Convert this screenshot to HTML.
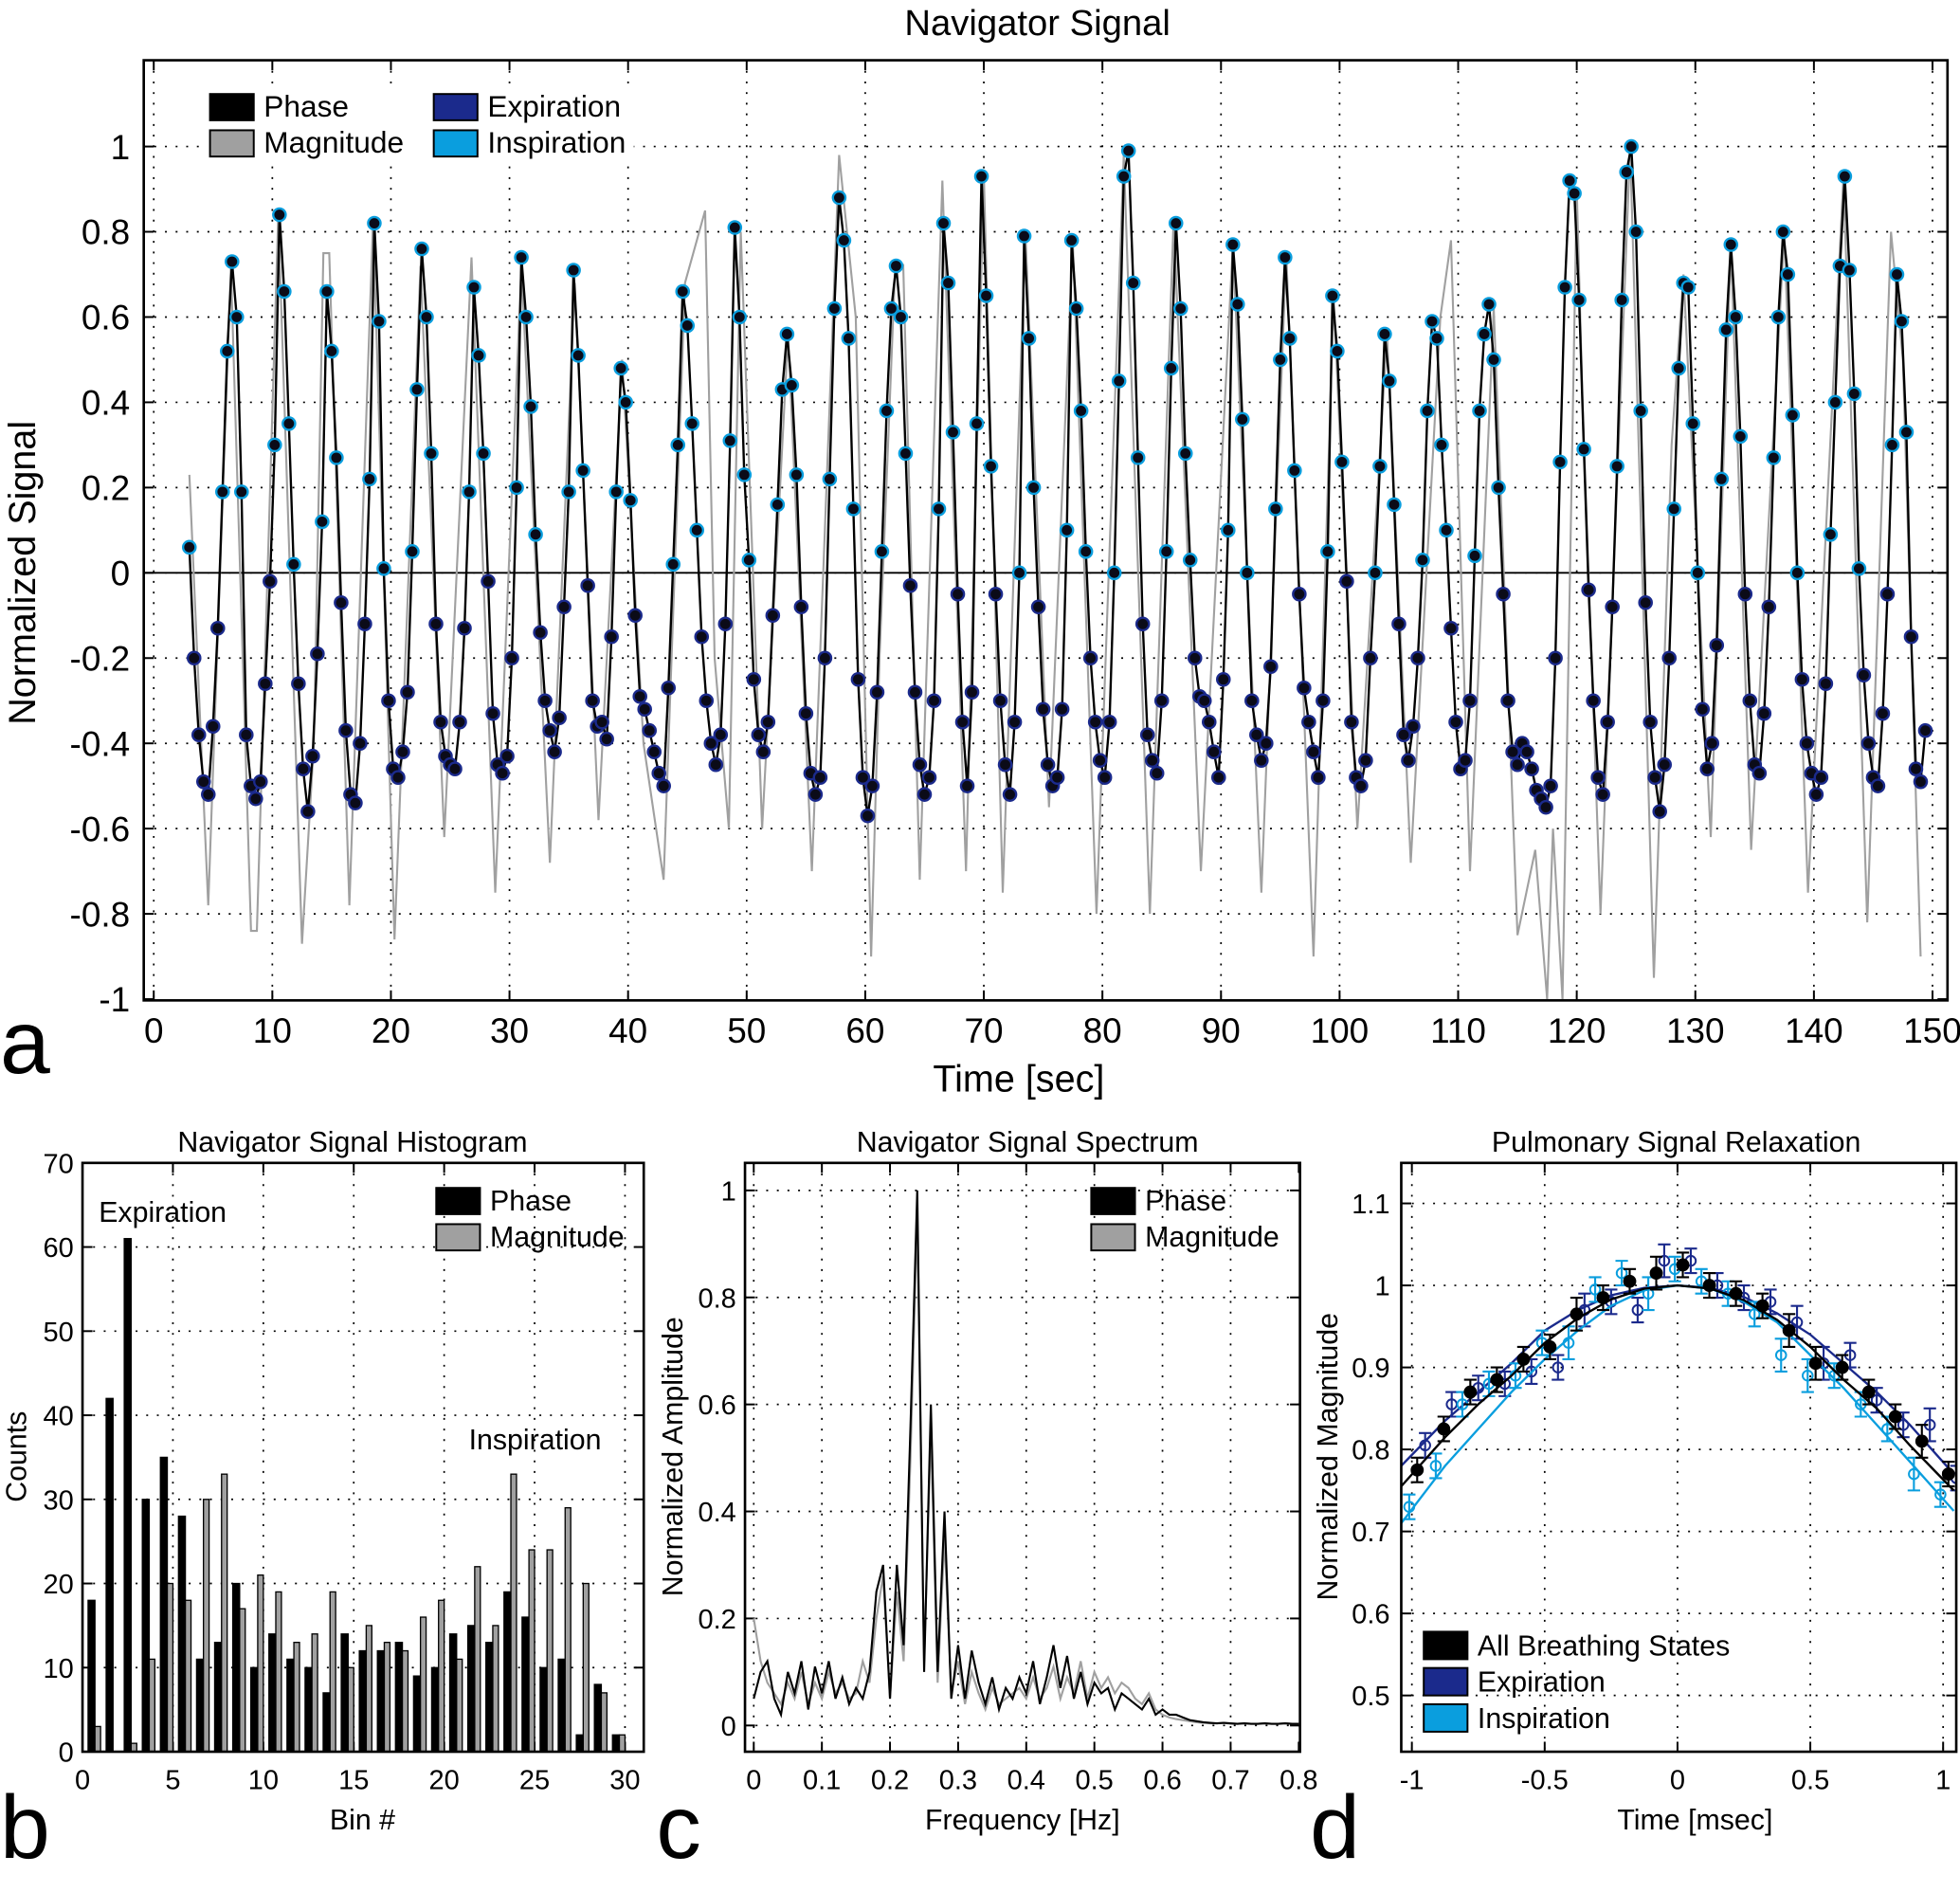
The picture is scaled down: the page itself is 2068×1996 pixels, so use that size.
<!DOCTYPE html>
<html><head><meta charset="utf-8">
<style>
html,body{margin:0;padding:0;background:#fff;}
svg{display:block;font-family:"Liberation Sans",Arial,sans-serif;}
</style></head>
<body>
<svg id="fig" width="2068" height="1996" viewBox="0 0 1568 1513" xmlns="http://www.w3.org/2000/svg"></svg>
<script>
// ---------- Panel a data ----------
const phaseStart = 3.0;
const phaseStep = 0.4;
const phaseValues = [0.06,-0.2,-0.38,-0.49,-0.52,-0.36,-0.13,0.19,0.52,0.73,0.6,0.19,-0.38,-0.5,-0.53,-0.49,-0.26,-0.02,0.3,0.84,0.66,0.35,0.02,-0.26,-0.46,-0.56,-0.43,-0.19,0.12,0.66,0.52,0.27,-0.07,-0.37,-0.52,-0.54,-0.4,-0.12,0.22,0.82,0.59,0.01,-0.3,-0.46,-0.48,-0.42,-0.28,0.05,0.43,0.76,0.6,0.28,-0.12,-0.35,-0.43,-0.45,-0.46,-0.35,-0.13,0.19,0.67,0.51,0.28,-0.02,-0.33,-0.45,-0.47,-0.43,-0.2,0.2,0.74,0.6,0.39,0.09,-0.14,-0.3,-0.37,-0.42,-0.34,-0.08,0.19,0.71,0.51,0.24,-0.03,-0.3,-0.36,-0.35,-0.39,-0.15,0.19,0.48,0.4,0.17,-0.1,-0.29,-0.32,-0.37,-0.42,-0.47,-0.5,-0.27,0.02,0.3,0.66,0.58,0.35,0.1,-0.15,-0.3,-0.4,-0.45,-0.38,-0.12,0.31,0.81,0.6,0.23,0.03,-0.25,-0.38,-0.42,-0.35,-0.1,0.16,0.43,0.56,0.44,0.23,-0.08,-0.33,-0.47,-0.52,-0.48,-0.2,0.22,0.62,0.88,0.78,0.55,0.15,-0.25,-0.48,-0.57,-0.5,-0.28,0.05,0.38,0.62,0.72,0.6,0.28,-0.03,-0.28,-0.45,-0.52,-0.48,-0.3,0.15,0.82,0.68,0.33,-0.05,-0.35,-0.5,-0.28,0.35,0.93,0.65,0.25,-0.05,-0.3,-0.45,-0.52,-0.35,0.0,0.79,0.55,0.2,-0.08,-0.32,-0.45,-0.5,-0.48,-0.32,0.1,0.78,0.62,0.38,0.05,-0.2,-0.35,-0.44,-0.48,-0.35,0.0,0.45,0.93,0.99,0.68,0.27,-0.12,-0.38,-0.44,-0.47,-0.3,0.05,0.48,0.82,0.62,0.28,0.03,-0.2,-0.29,-0.3,-0.35,-0.42,-0.48,-0.25,0.1,0.77,0.63,0.36,0.0,-0.3,-0.38,-0.44,-0.4,-0.22,0.15,0.5,0.74,0.55,0.24,-0.05,-0.27,-0.35,-0.42,-0.48,-0.3,0.05,0.65,0.52,0.26,-0.02,-0.35,-0.48,-0.5,-0.44,-0.2,0.0,0.25,0.56,0.45,0.16,-0.12,-0.38,-0.44,-0.36,-0.2,0.03,0.38,0.59,0.55,0.3,0.1,-0.13,-0.35,-0.46,-0.44,-0.3,0.04,0.38,0.56,0.63,0.5,0.2,-0.05,-0.3,-0.42,-0.45,-0.4,-0.42,-0.46,-0.51,-0.53,-0.55,-0.5,-0.2,0.26,0.67,0.92,0.89,0.64,0.29,-0.04,-0.3,-0.48,-0.52,-0.35,-0.08,0.25,0.64,0.94,1.0,0.8,0.38,-0.07,-0.35,-0.48,-0.56,-0.45,-0.2,0.15,0.48,0.68,0.67,0.35,0.0,-0.32,-0.46,-0.4,-0.17,0.22,0.57,0.77,0.6,0.32,-0.05,-0.3,-0.45,-0.47,-0.33,-0.08,0.27,0.6,0.8,0.7,0.37,0.0,-0.25,-0.4,-0.47,-0.52,-0.48,-0.26,0.09,0.4,0.72,0.93,0.71,0.42,0.01,-0.24,-0.4,-0.48,-0.5,-0.33,-0.05,0.3,0.7,0.59,0.33,-0.15,-0.46,-0.49,-0.37];
const magTimes = [3.0,4.6,6.5,8.2,8.7,10.5,12.5,13.5,14.3,14.8,16.5,18.5,20.3,22.5,24.5,26.8,28.8,31,33.4,35.5,37.5,39.5,41.3,43,44.8,46.5,47.3,48.5,49.5,51.3,53.5,55.5,57.8,59.2,60.5,61.2,62.5,63.2,64.6,66.5,68.5,70,71.6,73.5,75.5,77.5,79.5,81.8,84,86,88.3,91,93.4,95.5,97.8,99.5,101.5,104,106,108.5,109.4,111,113,115,116.5,117.5,118,118.8,120,120.5,122,124.5,126.5,128,129,131.3,133,134.7,137.5,139.5,142.5,144.5,146.5,147.5,149];
const magValues = [0.23,-0.78,0.72,-0.84,-0.84,0.84,-0.87,-0.4,0.75,0.75,-0.78,0.83,-0.86,0.72,-0.62,0.74,-0.75,0.72,-0.68,0.68,-0.58,0.5,-0.4,-0.72,0.68,0.85,-0.2,-0.6,0.8,-0.6,0.56,-0.7,0.98,0.6,-0.9,-0.2,0.7,0.72,-0.72,0.92,-0.7,0.93,-0.75,0.8,-0.55,0.78,-0.8,0.98,-0.8,0.83,-0.7,0.77,-0.75,0.75,-0.9,0.65,-0.6,0.56,-0.68,0.6,0.78,-0.7,0.62,-0.85,-0.65,-1.0,-0.6,-1.0,0.9,0.4,-0.8,1.0,-0.95,0.3,0.7,-0.62,0.77,-0.65,0.8,-0.75,0.93,-0.82,0.8,0.5,-0.9];
const aXTicks = [0,10,20,30,40,50,60,70,80,90,100,110,120,130,140,150];
const aYTicks = [-1,-0.8,-0.6,-0.4,-0.2,0,0.2,0.4,0.6,0.8,1];
const aYLabels = ["-1","-0.8","-0.6","-0.4","-0.2","0","0.2","0.4","0.6","0.8","1"];

// ---------- Panel b data ----------
const bins = [1,2,3,4,5,6,7,8,9,10,11,12,13,14,15,16,17,18,19,20,21,22,23,24,25,26,27,28,29,30];
const histPhase = [18,42,61,30,35,28,11,13,20,10,14,11,10,7,14,12,12,13,9,10,14,15,13,19,16,10,11,2,8,2];
const histMag = [3,0,1,11,20,18,30,33,17,21,19,13,14,19,10,15,13,12,16,18,11,22,15,33,24,24,29,20,7,2];
const bXTicks = [0,5,10,15,20,25,30];
const bYTicks = [0,10,20,30,40,50,60,70];

// ---------- Panel c data ----------
const freqs = [0,0.01,0.02,0.03,0.04,0.05,0.06,0.07,0.08,0.09,0.1,0.11,0.12,0.13,0.14,0.15,0.16,0.17,0.18,0.19,0.2,0.21,0.22,0.23,0.24,0.25,0.26,0.27,0.28,0.29,0.3,0.31,0.32,0.33,0.34,0.35,0.36,0.37,0.38,0.39,0.4,0.41,0.42,0.43,0.44,0.45,0.46,0.47,0.48,0.49,0.5,0.51,0.52,0.53,0.54,0.55,0.56,0.57,0.58,0.59,0.6,0.61,0.62,0.63,0.64,0.65,0.66,0.67,0.68,0.69,0.7,0.71,0.72,0.73,0.74,0.75,0.76,0.77,0.78,0.79,0.8];
const specPhase = [0.05,0.1,0.12,0.05,0.02,0.1,0.06,0.12,0.03,0.11,0.06,0.12,0.05,0.09,0.04,0.07,0.05,0.1,0.25,0.3,0.05,0.3,0.15,0.56,1.0,0.1,0.6,0.1,0.4,0.05,0.15,0.05,0.14,0.08,0.04,0.09,0.03,0.07,0.05,0.09,0.06,0.12,0.04,0.09,0.15,0.07,0.13,0.05,0.1,0.04,0.08,0.06,0.07,0.03,0.06,0.05,0.04,0.03,0.05,0.02,0.03,0.02,0.02,0.015,0.01,0.008,0.006,0.005,0.004,0.005,0.004,0.003,0.004,0.003,0.003,0.004,0.003,0.003,0.004,0.003,0.003];
const specMag = [0.2,0.12,0.08,0.06,0.04,0.08,0.05,0.1,0.04,0.08,0.05,0.1,0.06,0.08,0.05,0.06,0.12,0.08,0.2,0.28,0.05,0.25,0.12,0.5,0.95,0.12,0.55,0.08,0.35,0.06,0.12,0.04,0.1,0.06,0.03,0.07,0.04,0.05,0.06,0.07,0.05,0.09,0.05,0.07,0.11,0.05,0.09,0.06,0.12,0.05,0.1,0.07,0.09,0.06,0.08,0.07,0.05,0.04,0.06,0.03,0.02,0.015,0.012,0.01,0.008,0.006,0.005,0.004,0.004,0.005,0.003,0.003,0.004,0.003,0.003,0.004,0.003,0.003,0.004,0.003,0.003];
const cXTicks = [0,0.1,0.2,0.3,0.4,0.5,0.6,0.7,0.8];
const cYTicks = [0,0.2,0.4,0.6,0.8,1];

// ---------- Panel d data ----------
const relaxTimes = [-0.98,-0.88,-0.78,-0.68,-0.58,-0.48,-0.38,-0.28,-0.18,-0.08,0.02,0.12,0.22,0.32,0.42,0.52,0.62,0.72,0.82,0.92,1.02];
const relaxAll = [0.775,0.825,0.87,0.885,0.91,0.925,0.965,0.985,1.005,1.015,1.025,1.0,0.99,0.975,0.945,0.905,0.9,0.87,0.84,0.81,0.77];
const relaxExp = [0.805,0.855,0.875,0.88,0.895,0.9,0.97,0.98,0.97,1.03,1.03,1.0,0.985,0.98,0.955,0.905,0.915,0.86,0.83,0.83,0.765];
const relaxInsp = [0.73,0.78,0.855,0.88,0.89,0.93,0.93,0.995,1.015,0.99,1.02,1.005,0.99,0.965,0.915,0.89,0.89,0.855,0.825,0.77,0.745];
const relaxErr = [0.015,0.015,0.015,0.015,0.015,0.015,0.02,0.015,0.015,0.02,0.015,0.015,0.015,0.015,0.02,0.02,0.015,0.015,0.015,0.02,0.015];
const fitTimes = [-1.04,-0.875,-0.75,-0.625,-0.5,-0.375,-0.25,-0.125,0,0.125,0.25,0.375,0.5,0.625,0.75,0.875,1.04];
const fitAll = [0.755,0.815,0.855,0.89,0.93,0.96,0.983,0.996,1.0,0.996,0.982,0.958,0.925,0.885,0.85,0.805,0.75];
const fitExp = [0.78,0.835,0.87,0.905,0.945,0.97,0.988,0.997,1.0,0.997,0.986,0.966,0.94,0.905,0.87,0.83,0.77];
const fitInsp = [0.71,0.78,0.825,0.87,0.91,0.945,0.975,0.994,1.0,0.996,0.98,0.955,0.915,0.875,0.83,0.785,0.725];
const dXTicks = [-1,-0.5,0,0.5,1];
const dXLabels = ["-1","-0.5","0","0.5","1"];
const dYTicks = [0.5,0.6,0.7,0.8,0.9,1,1.1];

// ---------- helpers ----------
const NS = "http://www.w3.org/2000/svg";
const svg = document.getElementById('fig');
function mk(tag, attrs, parent){
  const e = document.createElementNS(NS, tag);
  for (const k in attrs) e.setAttribute(k, attrs[k]);
  (parent || svg).appendChild(e);
  return e;
}
function txt(s, x, y, size, anchor, parent, extra){
  const a = Object.assign({x:x, y:y, 'font-size':size, 'text-anchor':anchor||'middle', fill:'#000'}, extra||{});
  const t = mk('text', a, parent);
  t.textContent = s;
  return t;
}
const EXP = '#1b2a8c', INSP = '#0a9ede', GRAY = '#a0a0a0';

function axesFrame(g, L, T, R, B, xTicks, yTicks, sx, sy, name){
  const grid = mk('g', {stroke:'#000','stroke-width':1.3,'stroke-dasharray':'1.5,7'}, g);
  
  
  xTicks.forEach(v=>{ const x=sx(v); if(x>L+2&&x<R-2) mk('line',{x1:x,x2:x,y1:T,y2:B},grid); });
  yTicks.forEach(v=>{ const y=sy(v); if(y>T+2&&y<B-2) mk('line',{x1:L,x2:R,y1:y,y2:y},grid); });
  const tk = mk('g', {stroke:'#000','stroke-width':1.5}, g);
  
  
  xTicks.forEach(v=>{ const x=sx(v); mk('line',{x1:x,x2:x,y1:B,y2:B-8},tk); mk('line',{x1:x,x2:x,y1:T,y2:T+8},tk); });
  yTicks.forEach(v=>{ const y=sy(v); mk('line',{x1:L,x2:L+8,y1:y,y2:y},tk); mk('line',{x1:R,x2:R-8,y1:y,y2:y},tk); });
}
function frameBox(g, L, T, R, B, name){
  const r = mk('rect',{x:L,y:T,width:R-L,height:B-T,fill:'none',stroke:'#000','stroke-width':2}, g);
  
  
}
function legendEntry(g, x, y, w, h, color, label, size, name, stroke){
  const r = mk('rect',{x:x,y:y,width:w,height:h,fill:color,stroke:stroke||'#000','stroke-width':1.5}, g);
  
  
  const t = txt(label, x+w+8, y+h-3, size, 'start', g);
  
  
}

// ================= Panel a =================
(function(){
  const L=115,T=48,R=1558,B=800;
  const sx = v => 123 + (v)*(1546-123)/150;
  const sy = v => 458 - v*341;
  const g = mk('g',{});
  
  
  mk('rect',{x:L,y:T,width:R-L,height:B-T,fill:'#fff'},g);
  axesFrame(g,L,T,R,B,aXTicks,aYTicks,sx,sy,'panel-a');
  const zl = mk('line',{x1:L,x2:R,y1:sy(0),y2:sy(0),stroke:'#000','stroke-width':1.5},g);
  
  
  // magnitude
  const mp = magTimes.map((t,i)=>sx(t).toFixed(1)+','+sy(magValues[i]).toFixed(1)).join(' ');
  const ml = mk('polyline',{points:mp,fill:'none',stroke:GRAY,'stroke-width':1.6},g);
  
  
  // phase
  const pp = phaseValues.map((v,i)=>sx(phaseStart+i*phaseStep).toFixed(1)+','+sy(v).toFixed(1)).join(' ');
  const pl = mk('polyline',{points:pp,fill:'none',stroke:'#000','stroke-width':1.8},g);
  
  
  const mg = mk('g',{},g);
  
  
  phaseValues.forEach((v,i)=>{
    const c = mk('circle',{cx:sx(phaseStart+i*phaseStep),cy:sy(v),r:5,fill:'#0b0b18',stroke:v>=0?INSP:EXP,'stroke-width':1.8},mg);
    
    
  });
  frameBox(g,L,T,R,B,'panel-a');
  const xl = mk('g',{},g);
  
  
  aXTicks.forEach(v=>txt(String(v), sx(v), 834, 28, 'middle', xl));
  const yl = mk('g',{},g);
  
  
  aYTicks.forEach((v,i)=>txt(aYLabels[i], 104, sy(v)+10, 28, 'end', yl));
  const tt = txt('Navigator Signal', 830, 28, 29, 'middle', g);
  
  
  const xt = txt('Time [sec]', 815, 873, 30, 'middle', g);
  
  
  const yt = txt('Normalized Signal', 0, 0, 30, 'middle', g, {transform:'translate(28,458) rotate(-90)'});
  
  
  const lg = mk('g',{},g);
  
  
  mk('rect',{x:162,y:70,width:345,height:60,fill:'#fff'},lg);
  legendEntry(lg,168,75,35,21,'#000','Phase',24,'legend-phase');
  legendEntry(lg,168,104,35,21,GRAY,'Magnitude',24,'legend-magnitude');
  legendEntry(lg,347,75,35,21,EXP,'Expiration',24,'legend-expiration');
  legendEntry(lg,347,104,35,21,INSP,'Inspiration',24,'legend-inspiration');
  const la = txt('a', 0, 858, 72, 'start', g);
  
  
})();

// ================= Panel b =================
(function(){
  const L=66,T=930,R=515,B=1401;
  const sx = v => 66 + v*(500-66)/30;
  const sy = v => 1401 - v*(1401-930)/70;
  const g = mk('g',{});
  
  
  axesFrame(g,L,T,R,B,bXTicks,bYTicks,sx,sy,'panel-b');
  const bg = mk('g',{},g);
  
  
  bins.forEach((b,i)=>{
    const x = sx(b);
    const r1 = mk('rect',{x:x-10,y:sy(histPhase[i]),width:5.5,height:sy(0)-sy(histPhase[i]),fill:'#000',stroke:'#000','stroke-width':1},bg);
    
    
    if (histMag[i] > 0) {
      const r2 = mk('rect',{x:x-4.5,y:sy(histMag[i]),width:4.5,height:sy(0)-sy(histMag[i]),fill:GRAY,stroke:'#000','stroke-width':1},bg);
      
      
    }
  });
  frameBox(g,L,T,R,B,'panel-b');
  const xl = mk('g',{},g);
  
  
  bXTicks.forEach(v=>txt(String(v), sx(v), 1431, 22, 'middle', xl));
  const yl = mk('g',{},g);
  
  
  bYTicks.forEach(v=>txt(String(v), 59, sy(v)+8, 22, 'end', yl));
  const tt = txt('Navigator Signal Histogram', 282, 921, 23, 'middle', g);
  
  
  const xt = txt('Bin #', 290, 1463, 23, 'middle', g);
  
  
  const yt = txt('Counts', 0, 0, 23, 'middle', g, {transform:'translate(21,1165) rotate(-90)'});
  
  
  const e1 = txt('Expiration', 79, 977, 23, 'start', g);
  
  
  const e2 = txt('Inspiration', 375, 1159, 23, 'start', g);
  
  
  const lg = mk('g',{},g);
  
  
  legendEntry(lg,349,950,35,21,'#000','Phase',23,'hist-legend-phase');
  legendEntry(lg,349,979,35,21,GRAY,'Magnitude',23,'hist-legend-magnitude');
  const lb = txt('b', 0, 1486, 72, 'start', g);
  
  
})();

// ================= Panel c =================
(function(){
  const L=596,T=930,R=1040,B=1401;
  const sx = v => 603 + v*545;
  const sy = v => 1380 - v*428;
  const g = mk('g',{});
  
  
  axesFrame(g,L,T,R,B,cXTicks,cYTicks,sx,sy,'panel-c');
  const mp = freqs.map((f,i)=>sx(f).toFixed(1)+','+sy(specMag[i]).toFixed(1)).join(' ');
  const ml = mk('polyline',{points:mp,fill:'none',stroke:GRAY,'stroke-width':1.6},g);
  
  
  const pp = freqs.map((f,i)=>sx(f).toFixed(1)+','+sy(specPhase[i]).toFixed(1)).join(' ');
  const pl = mk('polyline',{points:pp,fill:'none',stroke:'#000','stroke-width':1.6},g);
  
  
  frameBox(g,L,T,R,B,'panel-c');
  const xl = mk('g',{},g);
  
  
  cXTicks.forEach(v=>txt(String(v), sx(v), 1431, 22, 'middle', xl));
  const yl = mk('g',{},g);
  
  
  cYTicks.forEach(v=>txt(String(v), 589, sy(v)+8, 22, 'end', yl));
  const tt = txt('Navigator Signal Spectrum', 822, 921, 23, 'middle', g);
  
  
  const xt = txt('Frequency [Hz]', 818, 1463, 23, 'middle', g);
  
  
  const yt = txt('Normalized Amplitude', 0, 0, 23, 'middle', g, {transform:'translate(546,1165) rotate(-90)'});
  
  
  const lg = mk('g',{},g);
  
  
  legendEntry(lg,873,950,35,21,'#000','Phase',23,'spec-legend-phase');
  legendEntry(lg,873,979,35,21,GRAY,'Magnitude',23,'spec-legend-magnitude');
  const lc = txt('c', 525, 1486, 72, 'start', g);
  
  
})();

// ================= Panel d =================
(function(){
  const L=1121,T=930,R=1565,B=1401;
  const sx = v => 1342 + v*212.5;
  const sy = v => 1028 - (v-1)*656;
  const g = mk('g',{});
  
  
  axesFrame(g,L,T,R,B,dXTicks,dYTicks,sx,sy,'panel-d');
  const clip = mk('clipPath',{id:'dclip'},g);
  mk('rect',{x:L,y:T,width:R-L,height:B-T},clip);
  const series = [
    {vals:relaxExp, fit:fitExp, color:EXP, name:'expiration', dx:0.03, filled:false},
    {vals:relaxInsp, fit:fitInsp, color:INSP, name:'inspiration', dx:-0.03, filled:false},
    {vals:relaxAll, fit:fitAll, color:'#000', name:'all-states', dx:0, filled:true}
  ];
  series.forEach(s=>{
    const sg = mk('g',{'clip-path':'url(#dclip)'},g);
    
    
    const fp = fitTimes.map((t,i)=>sx(t).toFixed(1)+','+sy(s.fit[i]).toFixed(1)).join(' ');
    const fl = mk('polyline',{points:fp,fill:'none',stroke:s.color,'stroke-width':1.8},sg);
    
    
    relaxTimes.forEach((t,i)=>{
      const x = sx(t+s.dx), y = sy(s.vals[i]);
      const e = relaxErr[i];
      const eb = mk('path',{d:`M${x},${sy(s.vals[i]+e)}V${sy(s.vals[i]-e)}M${x-5},${sy(s.vals[i]+e)}H${x+5}M${x-5},${sy(s.vals[i]-e)}H${x+5}`,stroke:s.color,'stroke-width':1.6,fill:'none'},sg);
      
      
      const c = mk('circle',{cx:x,cy:y,r:s.filled?4.5:4,fill:s.filled?'#000':'none',stroke:s.color,'stroke-width':1.5},sg);
      
      
    });
  });
  frameBox(g,L,T,R,B,'panel-d');
  const xl = mk('g',{},g);
  
  
  dXTicks.forEach((v,i)=>txt(dXLabels[i], sx(v), 1431, 22, 'middle', xl));
  const yl = mk('g',{},g);
  
  
  dYTicks.forEach(v=>txt(String(v), 1112, sy(v)+8, 22, 'end', yl));
  const tt = txt('Pulmonary Signal Relaxation', 1341, 921, 23, 'middle', g);
  
  
  const xt = txt('Time [msec]', 1356, 1463, 23, 'middle', g);
  
  
  const yt = txt('Normalized Magnitude', 0, 0, 23, 'middle', g, {transform:'translate(1070,1165) rotate(-90)'});
  
  
  const lg = mk('g',{},g);
  
  
  legendEntry(lg,1139,1305,35,22,'#000','All Breathing States',23,'relax-legend-all');
  legendEntry(lg,1139,1334,35,22,EXP,'Expiration',23,'relax-legend-expiration');
  legendEntry(lg,1139,1363,35,22,INSP,'Inspiration',23,'relax-legend-inspiration');
  const ld = txt('d', 1048, 1486, 72, 'start', g);
  
  
})();
</script>
</body></html>
